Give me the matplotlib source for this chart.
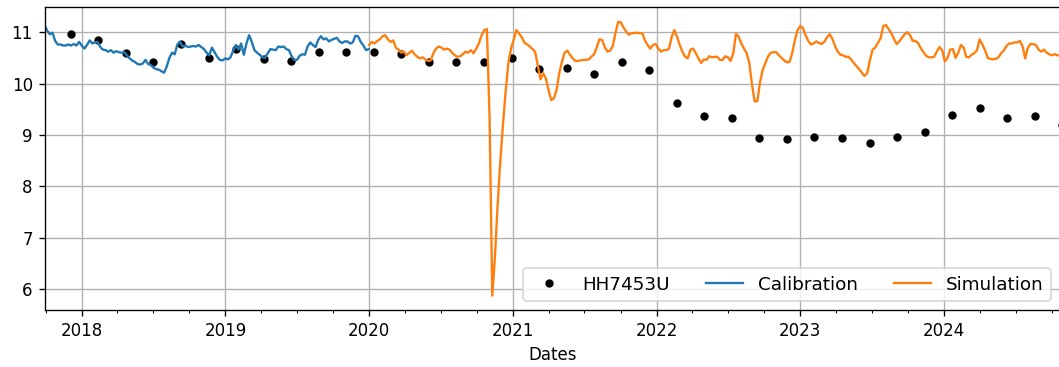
"""
Groundwater head at HH7453U: observations against the calibration
and simulation runs of the model.
"""

import matplotlib
matplotlib.use("Agg")
from matplotlib import pyplot as plt
import matplotlib.dates as mdates
import pandas as pd

# observed heads (m), one reading every 70 days
obs_start = '2017-12-04'
obs_step = '70D'
obs_values = [
    10.97, 10.85, 10.59, 10.42, 10.77, 10.49, 10.68, 10.48, 10.44, 10.62,
    10.62, 10.62, 10.57, 10.41, 10.41, 10.42, 10.49, 10.29, 10.31, 10.19,
    10.42, 10.26, 9.63, 9.37, 9.32, 8.93, 8.91, 8.96, 8.94, 8.84,
    8.96, 9.06, 9.39, 9.52, 9.32, 9.37, 9.19,
]

# calibration run
calib_start, calib_end = '2017-09-28', '2019-12-31'
calib_values = [
    11.14, 11.03, 10.96, 10.99, 10.83, 10.76, 10.76, 10.74, 10.74, 10.76,
    10.74, 10.77, 10.74, 10.81, 10.74, 10.68, 10.75, 10.84, 10.78, 10.80,
    10.81, 10.71, 10.66, 10.65, 10.62, 10.65, 10.60, 10.63, 10.61, 10.60,
    10.61, 10.55, 10.49, 10.45, 10.42, 10.38, 10.37, 10.39, 10.46, 10.38,
    10.36, 10.31, 10.28, 10.27, 10.24, 10.21, 10.33, 10.50, 10.60, 10.57,
    10.76, 10.81, 10.72, 10.74, 10.71, 10.72, 10.73, 10.72, 10.75, 10.71,
    10.67, 10.60, 10.55, 10.70, 10.61, 10.52, 10.46, 10.45, 10.49, 10.47,
    10.51, 10.64, 10.75, 10.66, 10.78,
    10.56, 10.78, 10.94, 10.81, 10.65, 10.60, 10.56, 10.51, 10.50, 10.59,
    10.67, 10.66, 10.65, 10.72, 10.71, 10.72, 10.67, 10.65, 10.53, 10.46,
    10.46, 10.54, 10.57, 10.56, 10.72, 10.80, 10.75, 10.71, 10.85, 10.92,
    10.86, 10.88, 10.82, 10.85, 10.87, 10.89, 10.82, 10.79, 10.82, 10.82,
    10.78, 10.80, 10.93, 10.92, 10.81, 10.74, 10.65, 10.67,
]

# simulation run
sim_start, sim_end = '2020-01-01', '2024-10-22'
sim_values = [
    10.75, 10.81, 10.78, 10.83, 10.86, 10.92, 10.94, 10.86, 10.81, 10.84,
    10.70, 10.66, 10.60, 10.62, 10.55, 10.60, 10.64, 10.57, 10.52, 10.49,
    10.51, 10.47, 10.44, 10.45, 10.59, 10.68, 10.72, 10.70, 10.66,
    10.68, 10.66, 10.60, 10.55, 10.52, 10.53, 10.57, 10.62, 10.60, 10.65,
    10.59, 10.68, 10.78, 10.94, 11.04, 11.06, 9.30, 5.87, 6.63, 7.64,
    8.49, 9.21, 9.85, 10.40, 10.68, 10.85, 11.04, 10.97, 10.90, 10.80,
    10.76, 10.72, 10.67, 10.62, 10.35, 10.08, 10.20, 10.10, 9.87, 9.68,
    9.71, 9.87, 10.20, 10.42, 10.60, 10.64, 10.56, 10.49, 10.44, 10.44,
    10.45, 10.46, 10.46, 10.47, 10.52, 10.57, 10.70, 10.86, 10.85, 10.71,
    10.62, 10.64, 10.73, 10.98, 11.20, 11.19, 11.09, 11.01, 10.95, 10.98,
    10.98, 10.99, 10.98, 10.98,
    10.84, 10.75, 10.68, 10.75, 10.77, 10.68, 10.62, 10.65, 10.65, 10.68,
    10.91, 11.04, 10.91, 10.75, 10.62, 10.52, 10.49, 10.66, 10.68, 10.59,
    10.49, 10.40, 10.47, 10.46, 10.53, 10.51, 10.52, 10.52, 10.46, 10.46,
    10.53, 10.51, 10.44, 10.59, 10.97, 10.91, 10.78, 10.68, 10.59, 10.39,
    9.97, 9.65, 9.66, 10.03, 10.27, 10.40, 10.53, 10.60, 10.61, 10.61,
    10.55, 10.50, 10.45, 10.41, 10.42, 10.59, 10.85, 11.04, 11.12, 11.08,
    10.94, 10.83, 10.76, 10.78, 10.82, 10.79, 10.77, 10.81, 10.90, 10.96,
    10.87, 10.73, 10.62, 10.56, 10.55, 10.52,
    10.52, 10.47, 10.40, 10.34, 10.28, 10.21, 10.15, 10.20, 10.45, 10.66,
    10.70, 10.79, 10.88, 11.12, 11.14, 11.06, 10.98, 10.87, 10.77, 10.82,
    10.89, 10.96, 11.00, 10.94, 10.83, 10.83, 10.79, 10.69, 10.61, 10.54,
    10.51, 10.51, 10.52, 10.62, 10.71, 10.65, 10.43, 10.50, 10.66, 10.67,
    10.50, 10.60, 10.75, 10.70, 10.52, 10.51, 10.56, 10.59, 10.65, 10.86,
    10.76, 10.65, 10.50, 10.48, 10.47, 10.48, 10.51, 10.59, 10.64, 10.73,
    10.78, 10.78, 10.80, 10.80, 10.83, 10.73, 10.49, 10.70, 10.77, 10.77,
    10.75, 10.66, 10.62, 10.66, 10.60, 10.57, 10.55, 10.57, 10.55, 10.55,
]

obs = pd.Series(obs_values,
                index=pd.date_range(obs_start, periods=len(obs_values),
                                    freq=obs_step))
calib = pd.Series(calib_values,
                  index=pd.date_range(calib_start, calib_end,
                                      periods=len(calib_values)))
sim = pd.Series(sim_values,
                index=pd.date_range(sim_start, sim_end,
                                    periods=len(sim_values)))

W, H, DPI = 1059, 367, 120
fig = plt.figure(figsize=(W / DPI, H / DPI), dpi=DPI)
ax = fig.add_axes([44.5 / W, 1 - 310 / H, (1060 - 44.5) / W, 303 / H])

ax.plot(obs.index, obs.values, 'o', color='k', markersize=4,
        label='HH7453U')
ax.plot(calib.index, calib.values, color='tab:blue', lw=1.4,
        label='Calibration')
ax.plot(sim.index, sim.values, color='tab:orange', lw=1.4,
        label='Simulation')

ax.set_xlim(calib.index[0], sim.index[-1])
ax.set_ylim(5.59, 11.49)
ax.set_yticks([6, 7, 8, 9, 10, 11])

ax.xaxis.set_major_locator(mdates.YearLocator())
ax.xaxis.set_major_formatter(mdates.DateFormatter('%Y'))
ax.xaxis.set_minor_locator(mdates.MonthLocator(bymonth=[4, 7, 10]))

ax.grid(True)
ax.set_xlabel('Dates')
ax.legend(loc='lower right', ncol=3, fontsize=11)

fig.savefig('out.png', dpi=DPI)
